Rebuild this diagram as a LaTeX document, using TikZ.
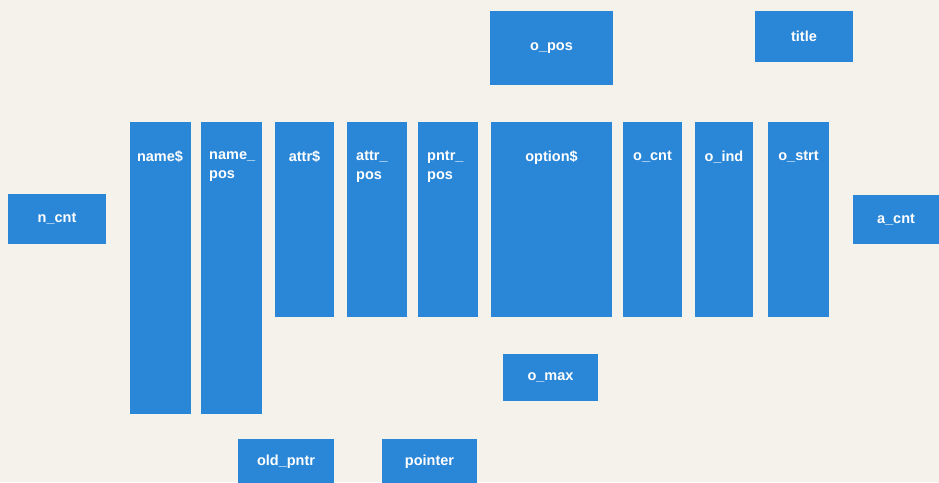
\documentclass[tikz,border=0pt]{standalone}
\usepackage{fontspec}
\setmainfont{Liberation Sans}
\definecolor{boxblue}{RGB}{42,134,214}
\definecolor{paper}{RGB}{244,242,234}
\tikzset{
  blk/.style={fill=boxblue, draw=none, inner sep=0pt, text=white,
    font=\fontsize{14.5}{19}\selectfont\bfseries},
  lbl/.style={text=white, inner sep=0pt, anchor=north, align=left,
    font=\fontsize{14.5}{19}\selectfont\bfseries}
}
\begin{document}
\begin{tikzpicture}[x=1pt,y=-1pt]
\fill[paper] (0,0) rectangle (939,482);
\useasboundingbox (0,0) rectangle (939,482);
% top boxes
\node[blk, minimum width=123pt, minimum height=74pt] (opos) at (551.5,48) {o\_pos};
\node[blk, minimum width=98pt, minimum height=51pt] (title) at (804,36.5) {title};
% side boxes
\node[blk, minimum width=98pt, minimum height=50pt] (ncnt) at (57,219) {n\_cnt};
\node[blk, minimum width=86pt, minimum height=49pt] (acnt) at (896,219.5) {a\_cnt};
% columns
\node[blk, minimum width=61pt, minimum height=292pt] (name) at (160,268) {};
\node[blk, minimum width=61pt, minimum height=292pt] (namepos) at (231.5,268) {};
\node[blk, minimum width=59pt, minimum height=195pt] (attr) at (304.5,219.5) {};
\node[blk, minimum width=60pt, minimum height=195pt] (attrpos) at (377,219.5) {};
\node[blk, minimum width=60pt, minimum height=195pt] (pntrpos) at (448,219.5) {};
\node[blk, minimum width=121pt, minimum height=195pt] (option) at (551.5,219.5) {};
\node[blk, minimum width=59pt, minimum height=195pt] (ocnt) at (652.5,219.5) {};
\node[blk, minimum width=58pt, minimum height=195pt] (oind) at (724,219.5) {};
\node[blk, minimum width=61pt, minimum height=195pt] (ostrt) at (798.5,219.5) {};
% column labels
\node[lbl] (lname) at (name.north |- 0,151) {name\$};
\node[lbl, anchor=north west] (lnamepos) at (209,151) {name\_\\pos};
\node[lbl] (lattr) at (attr.north |- 0,151) {attr\$};
\node[lbl, anchor=north west] (lattrpos) at (356,151) {attr\_\\pos};
\node[lbl, anchor=north west] (lpntrpos) at (427,151) {pntr\_\\pos};
\node[lbl] (loption) at (option.north |- 0,151) {option\$};
\node[lbl] (locnt) at (ocnt.north |- 0,151) {o\_cnt};
\node[lbl] (loind) at (oind.north |- 0,151) {o\_ind};
\node[lbl] (lostrt) at (ostrt.north |- 0,151) {o\_strt};
% lower boxes
\node[blk, minimum width=95pt, minimum height=47pt] (omax) at (550.5,377.5) {o\_max};
\node[blk, minimum width=96pt, minimum height=46pt] (oldpntr) at (286,462) {old\_pntr};
\node[blk, minimum width=95pt, minimum height=46pt] (pointer) at (429.5,462) {pointer};
\end{tikzpicture}
\end{document}
